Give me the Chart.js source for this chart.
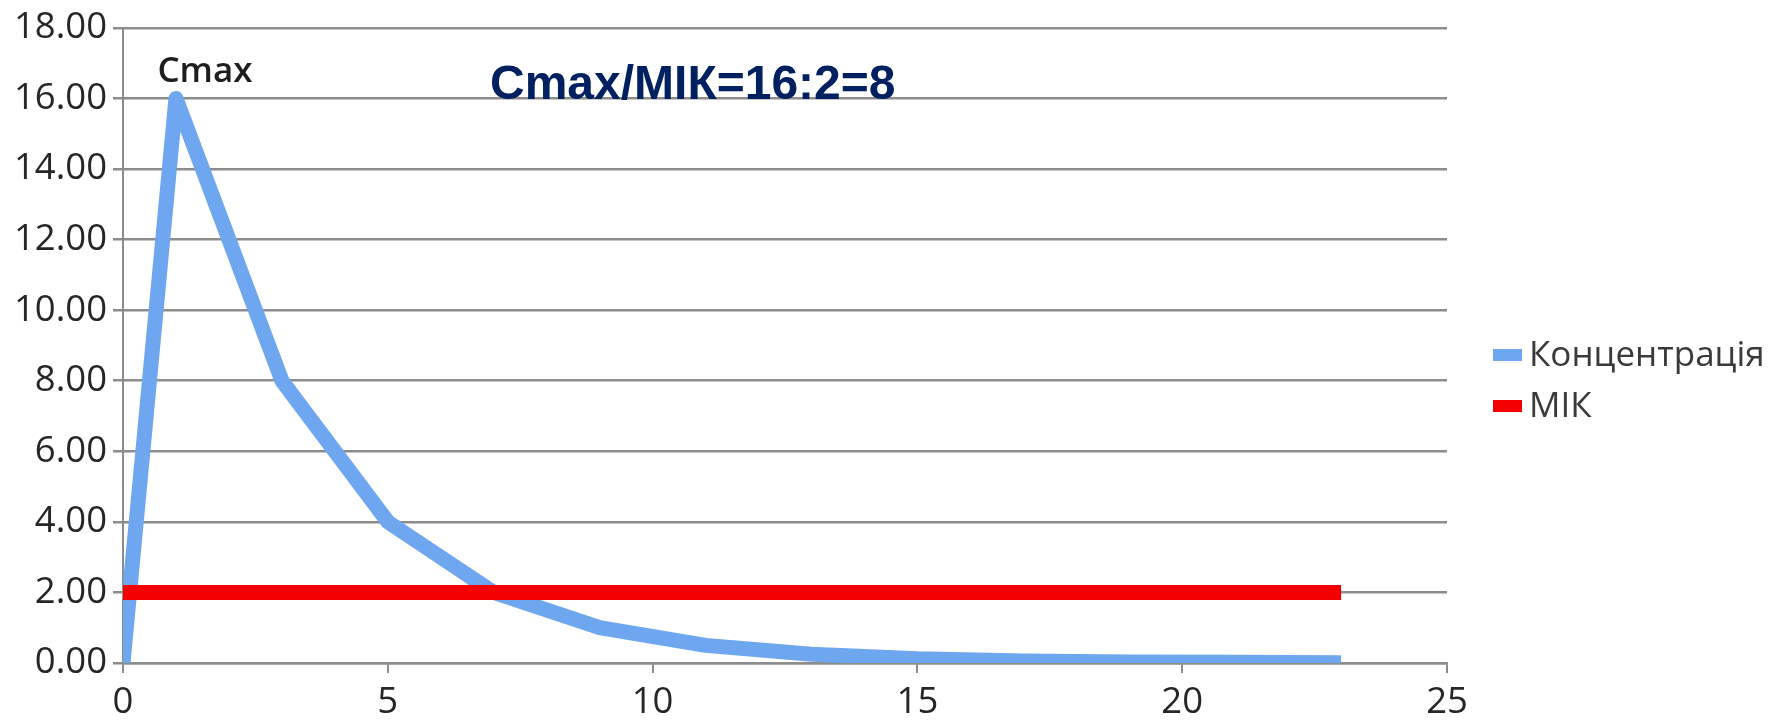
<!DOCTYPE html>
<html>
<head>
<meta charset="utf-8">
<script src="https://cdn.jsdelivr.net/npm/chart.js@4/dist/chart.umd.min.js"></script>
<style>
  html, body { margin: 0; padding: 0; background: #ffffff; }
  #wrap { width: 1779px; height: 723px; position: relative; }
</style>
</head>
<body>
<div id="wrap"><canvas id="chart"></canvas></div>
<script>
// Drug concentration after a single dose, sampled every two hours
const hours = [0, 1, 3, 5, 7, 9, 11, 13, 15, 17, 19, 21, 23];
const concentration = [0, 16, 8, 4, 2, 1, 0.5, 0.25, 0.12, 0.06, 0.03, 0.02, 0.01];

// Minimum inhibitory concentration, constant over the observed period
const micHours = [0, 23];
const micLevel = [2, 2];

const seriesNames = ['Концентрація', 'МІК'];
const seriesColors = ['rgb(110,166,240)', 'rgb(245,0,0)'];

// Axis ranges and tick spacing
const xRange = [0, 25];
const xStep = 5;
const yRange = [0, 18];
const yStep = 2;

// Peak annotation and ratio caption
const peakHour = 1;
const peakValue = 16;
const peakLabel = 'Cmax';
const ratioText = 'Cmax/МІК=16:2=8';

const toPoints = (xs, ys) => xs.map((x, i) => ({ x: x, y: ys[i] }));

const gridColor = '#8c8c8c';
const tickFont = { family: "'Open Sans', 'DejaVu Sans', sans-serif", size: 36.5 };

// Text annotations and legend drawn on top of the plot
const annotations = {
  id: 'annotations',
  afterDraw(chart) {
    const { ctx, chartArea, scales } = chart;
    const xs = scales.x, ys = scales.y;
    ctx.save();

    // Peak label above the maximum point
    const px = xs.getPixelForValue(peakHour);
    const py = ys.getPixelForValue(peakValue);
    ctx.fillStyle = '#1e1e1e';
    ctx.font = "600 35px 'Open Sans', sans-serif";
    ctx.textAlign = 'center';
    ctx.textBaseline = 'alphabetic';
    ctx.fillText(peakLabel, px + 29, py - 16);

    // Ratio caption
    ctx.fillStyle = '#002060';
    ctx.font = "bold 48px 'Liberation Sans', Arial, sans-serif";
    ctx.textAlign = 'left';
    ctx.fillText(ratioText, chartArea.left + 367, py + 0.5);

    // Legend to the right of the plot
    const lx = chartArea.right + 46;
    const rows = [355, 406];
    ctx.font = "35px 'Open Sans', sans-serif";
    ctx.textBaseline = 'middle';
    chart.data.datasets.forEach((ds, i) => {
      const cy = rows[i];
      ctx.fillStyle = ds.borderColor;
      ctx.fillRect(lx, cy - 6, 29, 12);
      ctx.fillStyle = '#3a3a3a';
      ctx.fillText(ds.label, lx + 36, cy + 1);
    });
    ctx.restore();
  }
};

new Chart(document.getElementById('chart'), {
  type: 'line',
  data: {
    datasets: [
      {
        label: seriesNames[0],
        data: toPoints(hours, concentration),
        borderColor: seriesColors[0],
        backgroundColor: seriesColors[0],
        borderWidth: 15,
        pointRadius: 0,
        tension: 0,
        borderJoinStyle: 'round',
        borderCapStyle: 'butt',
        order: 1
      },
      {
        label: seriesNames[1],
        data: toPoints(micHours, micLevel),
        borderColor: seriesColors[1],
        backgroundColor: seriesColors[1],
        borderWidth: 15,
        pointRadius: 0,
        tension: 0,
        borderCapStyle: 'butt',
        order: 0
      }
    ]
  },
  options: {
    responsive: true,
    maintainAspectRatio: false,
    animation: false,
    devicePixelRatio: 1,
    layout: { padding: { top: 25, right: 332, bottom: 0, left: 0 } },
    plugins: {
      legend: { display: false },
      tooltip: { enabled: false }
    },
    scales: {
      x: {
        type: 'linear',
        min: xRange[0],
        max: xRange[1],
        afterFit(scale) { scale.height = 60; },
        ticks: {
          stepSize: xStep,
          color: '#262626',
          font: tickFont,
          padding: 8,
          maxRotation: 0
        },
        grid: {
          drawOnChartArea: false,
          drawTicks: true,
          tickLength: 10,
          color: gridColor,
          lineWidth: 2
        },
        border: { display: true, color: gridColor, width: 2.5 }
      },
      y: {
        type: 'linear',
        min: yRange[0],
        max: yRange[1],
        afterFit(scale) { scale.width = 123; },
        ticks: {
          stepSize: yStep,
          color: '#262626',
          font: tickFont,
          padding: 6,
          callback: (v) => v.toFixed(2)
        },
        grid: {
          color: gridColor,
          lineWidth: 2.5,
          drawTicks: true,
          tickLength: 10
        },
        border: { display: true, color: gridColor, width: 2 }
      }
    }
  },
  plugins: [annotations]
});
</script>
</body>
</html>
